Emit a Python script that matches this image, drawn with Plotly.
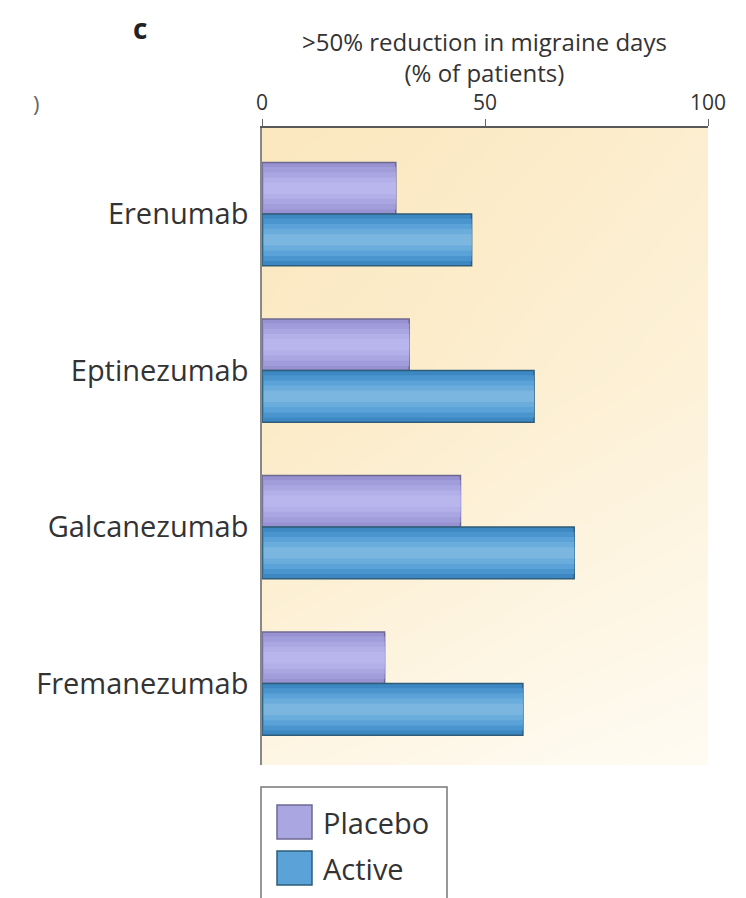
import plotly.graph_objects as go

# Responder rates (>50% reduction in monthly migraine days)
drugs = ["Erenumab", "Eptinezumab", "Galcanezumab", "Fremanezumab"]
placebo = [30, 33, 44.5, 27.5]
active = [47, 61, 70, 58.5]
x_ticks = [0, 50, 100]

W, H = 746, 898
ML, MR, MT, MB = 262, 38, 128, 133
PW, PH = W - ML - MR, H - MT - MB

FONT = "Open Sans"
TXT = "#333333"
# shades run from the bar's outer edge towards its lighter centre line
PLACEBO_SHADES = ["#9892d2", "#a19cda", "#aaa6e2", "#b2afe9", "#b9b6ee"]
PLACEBO_EDGE = "#6d6890"
ACTIVE_SHADES = ["#3d88c3", "#4b95cf", "#5aa2d7", "#6aacdc", "#7bb6e1"]
ACTIVE_EDGE = "#2f5c78"
BAR_W = 0.33
BAND_FRACS = [0.82, 0.62, 0.42, 0.22]


def px(x):
    return (x - ML) / PW


def py(y):
    return (H - MB - y) / PH


fig = go.Figure()

# warm backdrop that fades towards the lower right
fig.add_trace(go.Heatmap(
    z=[[1.00, 0.95, 0.85, 0.72],
       [0.90, 0.80, 0.66, 0.55],
       [0.70, 0.56, 0.42, 0.32],
       [0.35, 0.25, 0.15, 0.08]],
    x=[0.0, 0.33, 0.66, 1.0], y=[1.0, 0.6, 0.3, 0.0],
    zsmooth="best", zmin=0, zmax=1, showscale=False, hoverinfo="skip",
    colorscale=[[0, "#fffdf7"], [1, "#fbe8c0"]],
    xaxis="x", yaxis="y",
))


def add_series(values, name, offset, shades, edge):
    # outer body with outline, then lighter nested bands for a rounded look
    fig.add_trace(go.Bar(
        name=name, y=drugs, x=values, orientation="h",
        width=BAR_W, offset=offset,
        marker=dict(color=shades[0], line=dict(color=edge, width=1.5)),
        xaxis="x2", yaxis="y2", showlegend=False, hoverinfo="x+y",
    ))
    for frac, col in zip(BAND_FRACS, shades[1:]):
        w = BAR_W * frac
        fig.add_trace(go.Bar(
            y=drugs, x=[v - 0.4 for v in values], base=0.4, orientation="h",
            width=w, offset=offset + (BAR_W - w) / 2,
            marker=dict(color=col, line=dict(width=0)),
            xaxis="x2", yaxis="y2", showlegend=False, hoverinfo="skip",
        ))


add_series(placebo, "Placebo", -BAR_W, PLACEBO_SHADES, PLACEBO_EDGE)
add_series(active, "Active", 0.0, ACTIVE_SHADES, ACTIVE_EDGE)

fig.update_layout(
    width=W, height=H,
    margin=dict(l=ML, r=MR, t=MT, b=MB),
    paper_bgcolor="white", plot_bgcolor="white",
    barmode="overlay",
    font=dict(family=FONT, color=TXT),
    xaxis=dict(range=[0, 1], visible=False, fixedrange=True),
    yaxis=dict(range=[0, 1], visible=False, fixedrange=True),
    xaxis2=dict(
        overlaying="x", side="top", range=[0, 100],
        tickvals=x_ticks, ticktext=[str(v) for v in x_ticks],
        ticks="outside", ticklen=7, tickcolor="#666666", tickwidth=1.2,
        ticklabelstandoff=1,
        showline=True, linecolor="#5a5a5a", linewidth=1.5,
        showgrid=False, zeroline=False,
        tickfont=dict(size=21, color=TXT, family=FONT),
    ),
    yaxis2=dict(
        overlaying="y", type="category", categoryorder="array",
        categoryarray=drugs, range=[3.52, -0.55],
        showline=True, linecolor="#888888", linewidth=1.5,
        ticks="", ticklabelstandoff=6, showgrid=False, zeroline=False,
        tickfont=dict(size=29, color=TXT, family=FONT),
    ),
    showlegend=False,
)


def label(text, x, y, size, color=TXT, xanchor="center"):
    fig.add_annotation(text=text, x=px(x), y=py(y), xref="paper", yref="paper",
                       xanchor=xanchor, yanchor="middle", showarrow=False,
                       font=dict(size=size, color=color, family=FONT))


# titles
label("<b>c</b>", 140, 28, 28, "#222222")
label(">50% reduction in migraine days<br>(% of patients)", 484, 57, 24)
label(")", 36, 103, 22, "#666666")

# legend box
fig.add_shape(type="rect", xref="paper", yref="paper",
              x0=px(261), x1=px(447), y0=py(910), y1=py(787),
              line=dict(color="#777777", width=1.5), fillcolor="white")
for text, fill, edge, yc in [("Placebo", PLACEBO_SHADES[2], PLACEBO_EDGE, 822),
                             ("Active", ACTIVE_SHADES[2], ACTIVE_EDGE, 868)]:
    fig.add_shape(type="rect", xref="paper", yref="paper",
                  x0=px(277), x1=px(312), y0=py(yc + 17), y1=py(yc - 17),
                  line=dict(color=edge, width=1.5), fillcolor=fill)
    label(text, 321, yc, 29, xanchor="left")

fig.write_html("out.html")
